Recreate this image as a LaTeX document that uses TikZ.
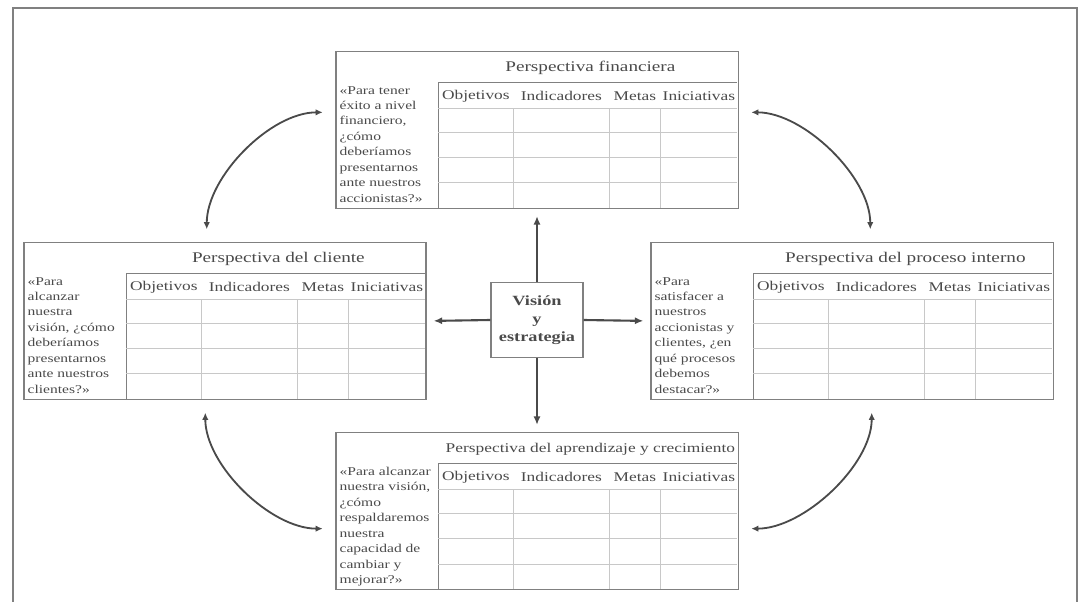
\documentclass[tikz,border=0pt]{standalone}
\usepackage{fontspec}
\setmainfont{Liberation Serif}[FakeStretch=1.3]
\usetikzlibrary{arrows.meta}
\definecolor{tinta}{HTML}{4A4A4A}
\definecolor{borde}{HTML}{808080}
\definecolor{rejilla}{HTML}{C8C8C8}

\begin{document}
\begin{tikzpicture}[x=0.025cm, y=-0.025cm]
  % Define styles
  \tikzstyle{caja} = [draw=borde, line width=0.8pt, minimum width=10.05cm, minimum height=3.925cm, inner sep=0pt]
  \tikzstyle{linea} = [rejilla, line width=0.6pt]
  \tikzstyle{titulo} = [text=tinta, font=\fontsize{10.5}{12}\selectfont, inner sep=0pt]
  \tikzstyle{cabecera} = [text=tinta, font=\fontsize{9.5}{11}\selectfont, inner sep=0pt]
  \tikzstyle{pregunta} = [text=tinta, font=\fontsize{8.5}{11}\selectfont, align=left, anchor=north west, inner sep=0pt]
  \tikzstyle{flecha} = [tinta, line width=1.3pt, {Latex[length=5pt,width=4.5pt]}-{Latex[length=5pt,width=4.5pt]}, shorten <=9pt, shorten >=9pt]
  \tikzstyle{eje} = [tinta, line width=1.5pt, -{Latex[length=6pt,width=5pt]}, shorten >=5pt]

  \useasboundingbox (0,0) rectangle (1082,602);

  % Outer frame, open at the bottom
  \draw[borde, line width=1pt] (13,602) -- (13,8) -- (1077,8) -- (1077,602);

  % Perspectives
  \node[caja] (fin) at (537,130) {};
  \node[caja] (cli) at (225,321) {};
  \node[caja] (der) at (852,321) {};
  \node[caja] (apr) at (537,511) {};

  % Vision and strategy
  \node[caja, minimum width=2.3cm, minimum height=1.875cm, text=tinta, align=center,
        font=\bfseries\fontsize{10}{13}\selectfont] (vision) at (537,320) {Visión\\y\\estrategia};

  % Tables, titles and questions
  \foreach \p/\t/\q in {
      fin/{Perspectiva financiera}/{«Para tener\\éxito a nivel\\financiero,\\¿cómo\\deberíamos\\presentarnos\\ante nuestros\\accionistas?»},
      cli/{Perspectiva del cliente}/{«Para\\alcanzar\\nuestra\\visión, ¿cómo\\deberíamos\\presentarnos\\ante nuestros\\clientes?»},
      der/{Perspectiva del proceso interno}/{«Para\\satisfacer a\\nuestros\\accionistas y\\clientes, ¿en\\qué procesos\\debemos\\destacar?»},
      apr/{\fontsize{9.5}{11}\selectfont Perspectiva del aprendizaje y crecimiento}/{«Para alcanzar\\nuestra visión,\\¿cómo\\respaldaremos\\nuestra\\capacidad de\\cambiar y\\mejorar?»}} {
    \begin{scope}[shift={(\p.north west)}]
      \draw[borde, line width=0.8pt] (103,157) -- (103,32) -- (402,32);
      \foreach \y in {58,82,107,132}
        \draw[linea] (103,\y) -- (402,\y);
      \foreach \x in {178,274,325}
        \draw[linea] (\x,58) -- (\x,157);
      \node[titulo] (\p-t) at (255,17) {\t};
      \node[pregunta] (\p-q) at (4,35) {\q};
      \node[cabecera] (\p-obj) at (140.5,45) {Objetivos};
      \node[cabecera] (\p-ind) at (226,45) {Indicadores};
      \node[cabecera] (\p-met) at (299.5,45) {Metas};
      \node[cabecera] (\p-ini) at (363.5,45) {Iniciativas};
    \end{scope}
  }

  % Arrows from the centre
  \draw[eje] (vision.north) -- (fin.south);
  \draw[eje] (vision.south) -- (apr.north);
  \draw[eje] (vision.west) -- (cli.east);
  \draw[eje] (vision.east) -- (der.west);

  % Links between perspectives
  \draw[flecha] (fin.175) .. controls +(-65,0) and +(0,-65) .. (cli.103);
  \draw[flecha] (fin.5) .. controls +(65,0) and +(0,-65) .. (der.77);
  \draw[flecha] (cli.256) .. controls +(0,65) and +(-65,0) .. (apr.185);
  \draw[flecha] (der.284) .. controls +(0,65) and +(65,0) .. (apr.355);

\end{tikzpicture}
\end{document}
